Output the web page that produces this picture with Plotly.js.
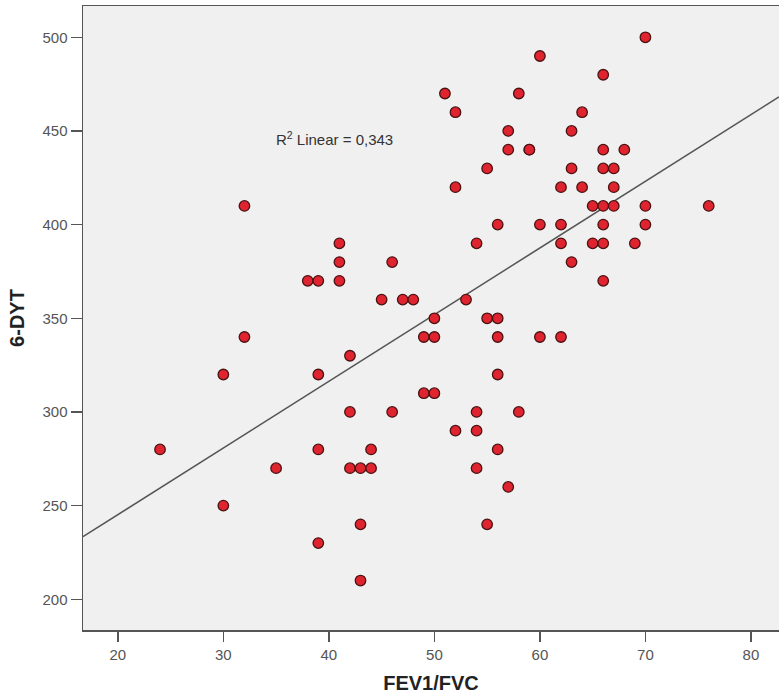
<!DOCTYPE html>
<html>
<head>
<meta charset="utf-8">
<script src="https://cdn.plot.ly/plotly-3.0.1.min.js"></script>
<style>html,body{margin:0;padding:0;background:#fff;}#chart{width:779px;height:700px;}</style>
</head>
<body>
<div id="chart"></div>
<script>
// FEV1/FVC values
const fev1fvc = [
  24,
  30, 30,
  32, 32,
  35,
  38,
  39, 39, 39, 39,
  41, 41, 41,
  42, 42, 42,
  43, 43, 43,
  44, 44,
  45,
  46, 46,
  47,
  48,
  49, 49,
  50, 50, 50,
  51,
  52, 52, 52,
  53,
  54, 54, 54, 54,
  55, 55, 55,
  56, 56, 56, 56, 56,
  57, 57, 57,
  58, 58,
  59, 59,
  60, 60, 60,
  62, 62, 62, 62,
  63, 63, 63,
  64, 64,
  65, 65,
  66, 66, 66, 66, 66, 66, 66,
  67, 67, 67,
  68,
  69,
  70, 70, 70,
  76
];
// 6-DYT values
const dyt6 = [
  280,
  320, 250,
  410, 340,
  270,
  370,
  370, 320, 280, 230,
  390, 380, 370,
  330, 300, 270,
  270, 240, 210,
  280, 270,
  360,
  380, 300,
  360,
  360,
  340, 310,
  350, 340, 310,
  470,
  460, 420, 290,
  360,
  390, 300, 290, 270,
  430, 350, 240,
  400, 350, 340, 320, 280,
  450, 440, 260,
  470, 300,
  440, 440,
  490, 400, 340,
  420, 400, 390, 340,
  450, 430, 380,
  460, 420,
  410, 390,
  480, 440, 430, 410, 400, 390, 370,
  430, 420, 410,
  440,
  390,
  500, 410, 400,
  410
];
const xRange = [16.7, 82.66];
const yRange = [183.6, 516.7];
const xTicks = [20, 30, 40, 50, 60, 70, 80];
const yTicks = [200, 250, 300, 350, 400, 450, 500];
const r2Label = "R<sup>2</sup> Linear = 0,343";

// least-squares fit line
const n = fev1fvc.length;
const mx = fev1fvc.reduce((a, b) => a + b, 0) / n;
const my = dyt6.reduce((a, b) => a + b, 0) / n;
let sxy = 0, sxx = 0;
for (let i = 0; i < n; i++) { sxy += (fev1fvc[i] - mx) * (dyt6[i] - my); sxx += (fev1fvc[i] - mx) ** 2; }
const slope = sxy / sxx;
const intercept = my - slope * mx;
const fitX = [xRange[0], xRange[1]];
const fitY = fitX.map(v => intercept + slope * v);

const FONT = 'Liberation Sans, Arial, sans-serif';
const traces = [
  {
    x: fitX, y: fitY, type: 'scatter', mode: 'lines',
    line: {color: '#555555', width: 1.6}, hoverinfo: 'skip', showlegend: false
  },
  {
    x: fev1fvc, y: dyt6, type: 'scatter', mode: 'markers',
    marker: {size: 10.5, color: '#e0242f', line: {color: '#4a1212', width: 1.3}},
    showlegend: false
  }
];

const layout = {
  width: 779, height: 700,
  margin: {l: 83, r: 0, t: 6, b: 70},
  paper_bgcolor: '#ffffff',
  plot_bgcolor: '#f0f0f0',
  font: {family: FONT, color: '#555555', size: 15},
  xaxis: {
    range: xRange, tickvals: xTicks, ticktext: xTicks.map(String),
    showgrid: false, zeroline: false,
    showline: true, linecolor: '#555555', linewidth: 1.5, mirror: true,
    ticks: 'outside', ticklen: 10, tickwidth: 1.5, tickcolor: '#555555',
    tickfont: {size: 15, color: '#555555', family: FONT},
    title: {text: 'FEV1/FVC', font: {size: 20, color: '#222222', family: FONT, weight: 'bold'}, standoff: 14}
  },
  yaxis: {
    range: yRange, tickvals: yTicks, ticktext: yTicks.map(String),
    showgrid: false, zeroline: false,
    showline: true, linecolor: '#555555', linewidth: 1.5,
    ticks: 'outside', ticklen: 11, tickwidth: 1.5, tickcolor: '#555555',
    tickfont: {size: 15, color: '#555555', family: FONT},
    title: {text: '6-DYT', font: {size: 20, color: '#222222', family: FONT, weight: 'bold'}, standoff: 12}
  },
  annotations: [{
    x: 40.5, y: 446, xref: 'x', yref: 'y', text: r2Label, showarrow: false,
    font: {size: 15, color: '#333333', family: FONT}
  }]
};

Plotly.newPlot('chart', traces, layout, {displayModeBar: false, staticPlot: true});
</script>
</body>
</html>
